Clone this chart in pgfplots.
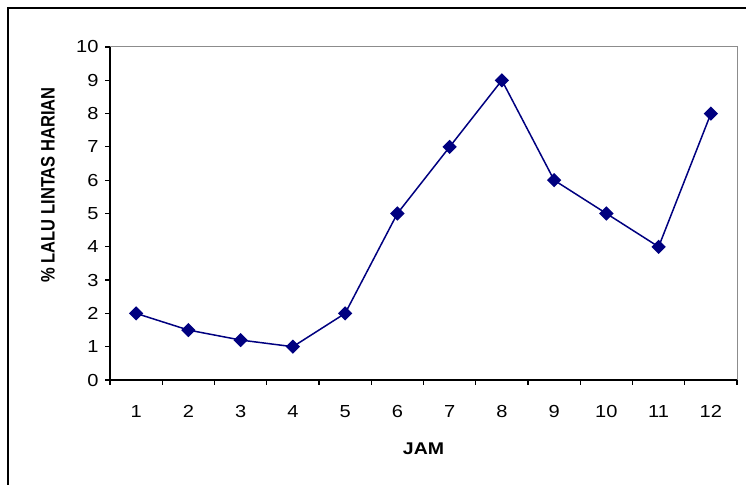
\documentclass[border=0pt]{standalone}
\usepackage{fontspec}
\setmainfont{Liberation Sans}[FakeStretch=1.15]
\newfontfamily\ylabfont{Liberation Sans}[FakeStretch=0.85]
\usepackage{pgfplots}
\pgfplotsset{compat=1.18}
\definecolor{navyline}{RGB}{0,0,128}
\begin{document}
\begin{tikzpicture}
\useasboundingbox (0,0) rectangle (746bp,485bp);
\fill[white] (0,0) rectangle (746bp,485bp);
\begin{axis}[
  at={(110bp,105bp)}, anchor=south west,
  scale only axis, width=627bp, height=333bp,
  xmin=0.5, xmax=12.5, ymin=0, ymax=10,
  axis lines=left, axis line style={-, black, line width=1.4bp},
  clip=false,
  xtick={1,...,12},
  minor xtick={0.5,1.5,...,12.5},
  major x tick style={draw=none},
  ytick={0,...,10},
  tick align=outside,
  major tick length=5bp, minor tick length=5bp,
  tick style={black, line width=1.2bp},
  /pgf/number format/assume math mode=true,
  ticklabel style={font=\fontsize{17.5}{19}\selectfont},
  xticklabel style={yshift=-17bp},
  yticklabel style={xshift=-3bp},
  xlabel={JAM},
  xlabel style={font=\fontsize{17}{19}\selectfont\bfseries, at={(axis description cs:0.5,-0.207)}, anchor=center},
  ylabel={\% LALU LINTAS HARIAN},
  ylabel style={font=\ylabfont\fontsize{19.5}{21}\selectfont\bfseries, at={(axis description cs:-0.099,0.586)}, anchor=center, rotate=0},
]
\draw[gray!90, line width=1bp] (rel axis cs:0,1) -- (rel axis cs:1,1) -- (rel axis cs:1,0);
\addplot[navyline, line width=1.5bp, mark=square*, mark size=4.3bp, mark options={fill=navyline, draw=navyline, rotate=45}] coordinates {
(1,2) (2,1.5) (3,1.2) (4,1) (5,2) (6,5) (7,7) (8,9) (9,6) (10,5) (11,4) (12,8)
};
\end{axis}
\draw[black, line width=2bp] (8bp,-10bp) -- (8bp,477bp) -- (760bp,477bp);
\end{tikzpicture}
\end{document}
